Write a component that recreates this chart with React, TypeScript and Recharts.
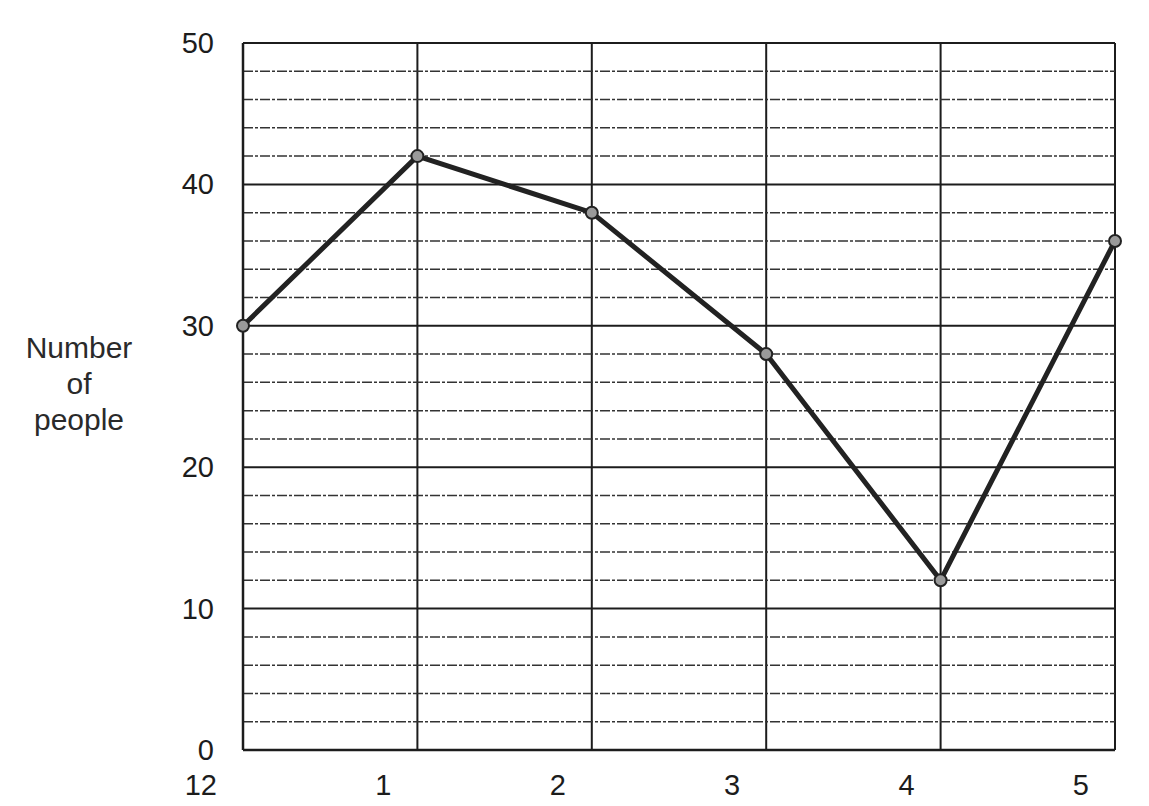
import { LineChart, Line, XAxis, YAxis, CartesianGrid, ReferenceLine } from "recharts";

const hours = ["12", "1", "2", "3", "4", "5"];
const people = [30, 42, 38, 28, 12, 36];
const yTicks = [0, 10, 20, 30, 40, 50];
const yLabelLines = ["Number", "of", "people"];

const chartData = hours.map((h, i) => ({ hour: h, people: people[i] }));

// dotted minor lines every 2 units between the solid 10s
const minorTicks = Array.from({ length: 26 }, (_, i) => i * 2).filter((v) => v % 10 !== 0);

const FONT = "'Liberation Sans', Arial, sans-serif";
const INK = "#1c1c1c";

function YTick({ x, y, payload }: any) {
  return (
    <text x={x - 21} y={y} dy={10} textAnchor="end" fontSize={29} fill={INK} fontFamily={FONT}>
      {payload.value}
    </text>
  );
}

function XTick({ x, y, payload }: any) {
  return (
    <text x={x - 26} y={y + 37} textAnchor="end" fontSize={29} fill={INK} fontFamily={FONT}>
      {payload.value}
    </text>
  );
}

function YLabel() {
  return (
    <text textAnchor="middle" fontSize={30} fill="#2a2a2a" fontFamily={FONT}>
      {yLabelLines.map((line, i) => (
        <tspan key={line} x={71} y={350 + i * 36}>
          {line}
        </tspan>
      ))}
    </text>
  );
}

export default function App() {
  return (
    <div style={{ width: 1141, height: 798, background: "#fff" }}>
      <LineChart
        width={1141}
        height={798}
        data={chartData}
        margin={{ top: 35, right: 34, left: 175, bottom: 26 }}
      >
        {minorTicks.map((v) => (
          <ReferenceLine key={v} y={v} stroke="#333" strokeWidth={1.5} strokeDasharray="10 2 3 2" />
        ))}
        <CartesianGrid stroke={INK} strokeWidth={2} />
        <XAxis
          dataKey="hour"
          height={30}
          tick={<XTick />}
          tickLine={false}
          axisLine={{ stroke: INK, strokeWidth: 2.5 }}
          interval={0}
        />
        <YAxis
          domain={[0, 50]}
          ticks={yTicks}
          width={60}
          tick={<YTick />}
          tickLine={false}
          axisLine={{ stroke: INK, strokeWidth: 2.5 }}
        />
        <Line
          type="linear"
          dataKey="people"
          stroke="#222"
          strokeWidth={5}
          dot={{ r: 6, fill: "#9a9a9a", stroke: "#222", strokeWidth: 2 }}
          isAnimationActive={false}
        />
        <YLabel />
      </LineChart>
    </div>
  );
}
